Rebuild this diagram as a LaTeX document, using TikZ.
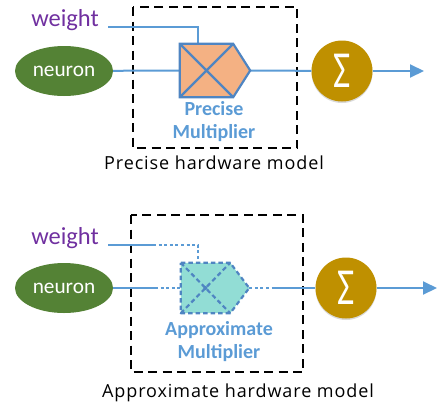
\documentclass[tikz,border=0pt]{standalone}
\usepackage{fontspec}
\setmainfont{Carlito}
\newfontfamily\modelfont[LetterSpace=5]{Open Sans}
\usetikzlibrary{arrows.meta,shadows,shapes.geometric,calc}
\definecolor{wire}{HTML}{5B9BD5}
\definecolor{muledge}{HTML}{4F85C2}
\definecolor{precfill}{HTML}{F4B183}
\definecolor{apxfill}{HTML}{92DDD5}
\definecolor{neurongreen}{HTML}{548235}
\definecolor{sumgold}{HTML}{BF9000}
\definecolor{wpurple}{HTML}{7030A0}
\tikzset{
  wireline/.style={draw=wire, line width=2pt},
  dotwire/.style={draw=wire, line width=2pt, dash pattern=on 3pt off 2.6pt},
  neuronnode/.style={ellipse, fill=neurongreen, text=white, minimum width=98pt, minimum height=50pt, inner sep=0pt, font=\fontsize{21.3}{23}\selectfont},
  sumnode/.style={circle, fill=sumgold, text=white, minimum size=61pt, inner sep=0pt, font=\fontsize{52}{54}\selectfont,
    drop shadow={shadow xshift=0pt, shadow yshift=-1.5pt, opacity=0.25, fill=black!60}},
  mulanchor/.style={rectangle, draw=none, inner sep=0pt},
  modelbox/.style={draw=black, line width=1.8pt, dash pattern=on 9pt off 5.5pt},
  weightlabel/.style={text=wpurple, font=\fontsize{24.5}{26}\selectfont, inner sep=0pt},
  mullabel/.style={text=wire, font=\bfseries\fontsize{20}{23}\selectfont, align=center, inner sep=0pt},
  modellabel/.style={text=black, font=\modelfont\fontsize{18}{20}\selectfont, inner sep=0pt},
  outarrow/.style={draw=wire, line width=2pt, -{Triangle[length=14pt,width=13pt]}},
}
\begin{document}
\begin{tikzpicture}[x=1pt,y=-1pt]
\useasboundingbox (0,0) rectangle (438,408);

% ---------- precise hardware model ----------
\draw[modelbox] (133,7) rectangle (297,148);
\node[weightlabel] (wP) at (65,20) {weight};
\coordinate (wPs) at (108,27);
\node[neuronnode] (nP) at (64,71) {neuron};
\node[mulanchor, minimum width=70pt, minimum height=53pt] (mP) at (215,70.5) {};
\node[sumnode] (sP) at (342,71) {\scalebox{0.72}[1]{Σ}};
\coordinate (oP) at (424,71);

\draw[wireline] (wPs) -| ([xshift=-17pt]mP.north);
\draw[wireline] (nP) -- (mP.west);
\draw[wireline] (mP.east) -- (sP);
\draw[outarrow] (sP) -- (oP);

\draw[draw=muledge, fill=precfill, line width=2.2pt, line join=miter]
  (mP.north west) -- ([xshift=-17pt]mP.north east) -- (mP.east)
  -- ([xshift=-17pt]mP.south east) -- (mP.south west) -- cycle;
\draw[draw=muledge, line width=2.2pt]
  (mP.north west) -- ([xshift=-17pt]mP.south east)
  (mP.south west) -- ([xshift=-17pt]mP.north east);

\node[mullabel] (lP) at (214,121.5) {Precise\\Multiplier};
\node[modellabel] (hP) at (214,163) {Precise hardware model};

% ---------- approximate hardware model ----------
\draw[modelbox] (131,215) rectangle (303,372);
\node[weightlabel] (wA) at (65,238) {weight};
\coordinate (wAs) at (108,245);
\coordinate (wAm) at (153,245);
\node[neuronnode] (nA) at (64,288) {neuron};
\coordinate (nAm) at (155,288);
\node[mulanchor, minimum width=68pt, minimum height=50pt] (mA) at (215,288) {};
\coordinate (sAm) at (273,288);
\node[sumnode] (sA) at (346,288) {\scalebox{0.72}[1]{Σ}};
\coordinate (oA) at (437,288);

\draw[wireline] (wAs) -- (wAm);
\draw[dotwire] (wAm) -| ([xshift=-17pt]mA.north);
\draw[wireline] (nA) -- (nAm);
\draw[dotwire] (nAm) -- (mA.west);
\draw[dotwire] (mA.east) -- (sAm);
\draw[wireline] (sAm) -- (sA);
\draw[outarrow] (sA) -- (oA);

\draw[draw=muledge, fill=apxfill, line width=2.2pt, line join=round, dash pattern=on 4.5pt off 3pt]
  (mA.north west) -- ([xshift=-19pt]mA.north east) -- (mA.east)
  -- ([xshift=-19pt]mA.south east) -- (mA.south west) -- cycle;
\draw[draw=muledge, line width=2.2pt, dash pattern=on 4.5pt off 3pt]
  (mA.north west) -- ([xshift=-19pt]mA.south east)
  (mA.south west) -- ([xshift=-19pt]mA.north east);
\fill[muledge] ($(mA.center)+(-9.5pt,0)$) circle (2pt);

\node[mullabel] (lA) at (219,341.5) {Approximate\\Multiplier};
\node[modellabel] (hA) at (238,393) {Approximate hardware model};
\end{tikzpicture}
\end{document}
